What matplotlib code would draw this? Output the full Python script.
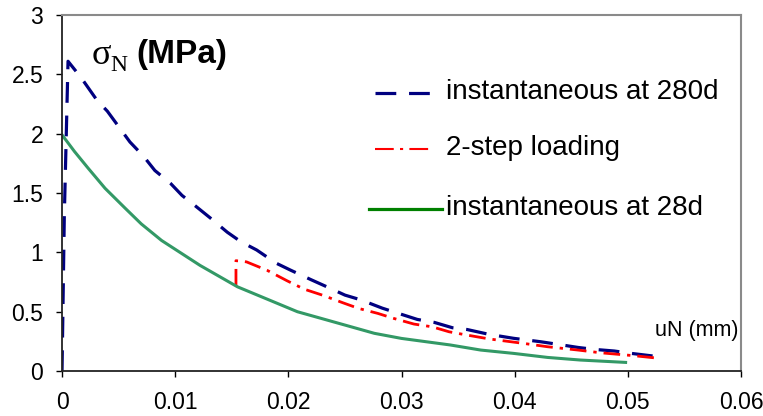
import numpy as np
import matplotlib.pyplot as plt
from matplotlib.lines import Line2D

# instantaneous loading at 280 days (blue dashed)
x_280d = [0, 0.0002, 0.00053, 0.0017, 0.0031, 0.0040, 0.0050, 0.0060, 0.0072, 0.0082,
          0.0096, 0.0106, 0.0118, 0.0131, 0.0146, 0.0158, 0.0172, 0.0189, 0.0202, 0.0220,
          0.0234, 0.0250, 0.0264, 0.0283, 0.0296, 0.0314, 0.0329, 0.0345, 0.0358, 0.0377,
          0.0399, 0.0423, 0.0439, 0.0456, 0.0470, 0.0488, 0.0503, 0.0523]
y_280d = [0, 1.30, 2.61, 2.47, 2.28, 2.19, 2.06, 1.93, 1.81, 1.69,
          1.58, 1.48, 1.39, 1.29, 1.17, 1.09, 1.02, 0.91, 0.85, 0.77,
          0.71, 0.64, 0.60, 0.53, 0.49, 0.435, 0.41, 0.365, 0.35, 0.31,
          0.276, 0.247, 0.224, 0.199, 0.183, 0.169, 0.149, 0.126]

# 2-step loading (red dash-dot)
x_2step = [0.01537, 0.01537, 0.0163, 0.0181, 0.0199, 0.0214, 0.0230, 0.0248, 0.0262,
           0.0279, 0.0293, 0.0311, 0.0327, 0.0342, 0.0358, 0.0378, 0.0408, 0.0429,
           0.0456, 0.0476, 0.0506, 0.0523]
y_2step = [0.72, 0.93, 0.92, 0.85, 0.76, 0.69, 0.64, 0.576, 0.528,
           0.486, 0.444, 0.396, 0.373, 0.331, 0.303, 0.27, 0.233, 0.205,
           0.177, 0.154, 0.129, 0.112]

# instantaneous loading at 28 days (green solid)
x_28d = [0, 0.0011, 0.0023, 0.0038, 0.0056, 0.0070, 0.0088, 0.0122, 0.0155, 0.0208,
         0.0276, 0.0300, 0.0343, 0.0370, 0.0399, 0.0429, 0.0458, 0.0498]
y_28d = [1.99, 1.85, 1.71, 1.54, 1.37, 1.24, 1.10, 0.89, 0.71, 0.50,
         0.318, 0.275, 0.22, 0.177, 0.149, 0.115, 0.093, 0.073]

labels = ["instantaneous at 280d", "2-step loading", "instantaneous at 28d"]
x_ticks = [0, 0.01, 0.02, 0.03, 0.04, 0.05, 0.06]
x_ticklabels = ["0", "0.01", "0.02", "0.03", "0.04", "0.05", "0.06"]
y_ticks = [0, 0.5, 1, 1.5, 2, 2.5, 3]
y_ticklabels = ["0", "0.5", "1", "1.5", "2", "2.5", "3"]

plt.rcParams['font.family'] = ['Liberation Sans', 'DejaVu Sans']

fig = plt.figure(figsize=(7.63, 4.16), dpi=100)
ax = fig.add_axes([0.0813, 0.108, 0.8899, 0.856])

blue = '#000080'
red = '#ff0000'
green_curve = '#339966'
green_leg = '#008000'

ax.plot(x_280d, y_280d, color=blue, lw=2.3, dashes=(6.5, 4))
ax.plot(x_2step, y_2step, color=red, lw=2.0, dashes=(6, 2.5, 1.2, 2.5))
ax.plot(x_28d, y_28d, color=green_curve, lw=2.2)

ax.set_xlim(0, 0.06)
ax.set_ylim(0, 3)
ax.set_xticks(x_ticks)
ax.set_xticklabels(x_ticklabels)
ax.set_yticks(y_ticks)
ax.set_yticklabels(y_ticklabels)
ax.tick_params(axis='x', direction='out', length=4.5, width=1, pad=10, labelsize=16.5)
ax.tick_params(axis='y', direction='out', length=4.5, width=1, pad=9, labelsize=16.5)

for side in ['left', 'bottom']:
    ax.spines[side].set_color('#222222')
    ax.spines[side].set_linewidth(1.3)
for side in ['top', 'right']:
    ax.spines[side].set_color('#8a8a8a')
    ax.spines[side].set_linewidth(1.5)

# hand placed legend, like the original
tr = ax.transAxes
ax.add_line(Line2D([0.461, 0.546], [0.782, 0.782], transform=tr, color=blue, lw=2.3, dashes=(6.5, 4)))
ax.add_line(Line2D([0.461, 0.544], [0.625, 0.625], transform=tr, color=red, lw=1.5, dashes=(9, 3, 1.5, 3)))
ax.add_line(Line2D([0.452, 0.560], [0.455, 0.455], transform=tr, color=green_leg, lw=2.3))
leg_y = [0.784, 0.627, 0.458]
for lab, yy in zip(labels, leg_y):
    ax.text(0.5655, yy, lab, transform=tr, fontsize=20, va='center', ha='left')

# axis titles inside the plot area
ax.text(0.044, 0.885, 'σ', transform=tr, fontsize=26, family='Liberation Serif',
        va='center', ha='left')
ax.text(0.0705, 0.858, 'N', transform=tr, fontsize=17, family='Liberation Serif',
        va='center', ha='left')
ax.text(0.109, 0.888, '(MPa)', transform=tr, fontsize=24, fontweight='bold', va='center', ha='left')
ax.text(0.873, 0.115, 'uN (mm)', transform=tr, fontsize=15.5, va='center', ha='left')

plt.savefig('out.png', dpi=100)
